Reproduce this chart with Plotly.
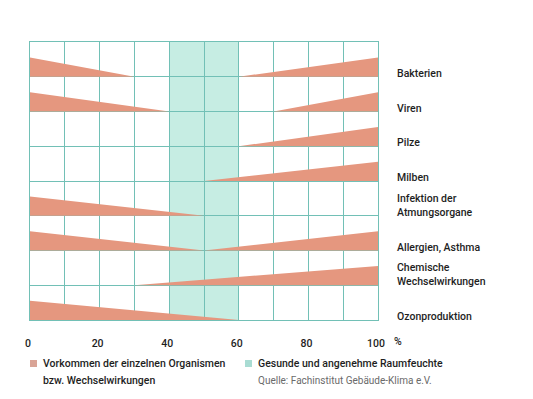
import plotly.graph_objects as go

categories = ["Bakterien", "Viren", "Pilze", "Milben",
              "Infektion der<br>Atmungsorgane", "Allergien, Asthma",
              "Chemische<br>Wechselwirkungen", "Ozonproduktion"]
# left wedge: thick at 0 %, tapering to this value (None = no wedge)
left_end = [30, 40, None, None, 50, 50, None, 60]
# right wedge: starts at this value, thick at 100 %
right_start = [60, 70, 60, 50, None, 50, 30, None]

band = [40, 60]
x_ticks = [0, 20, 40, 60, 80, 100]

WEDGE = "#E5977F"
BAND = "#C6EDE3"
GRID = "#72C0B6"
H = 0.555
n = len(categories)
FONT = "Roboto, DejaVu Sans Condensed, sans-serif"
TXT = "#1e1e1e"
FS = 10.5
WT = 500

PW, PH = 348, 278  # plot area size in px
PL, PT = 22, 34    # plot offsets (page has an 8px body margin)


def py(ypix):
    """page-pixel y (reference) -> paper coordinate"""
    return ((PT + 8 + PH) - ypix) / PH


def px(xpix):
    return (xpix - (PL + 8)) / PW


fig = go.Figure()

for i, cat in enumerate(categories):
    base = n - 1 - i
    if left_end[i] is not None:
        fig.add_trace(go.Scatter(
            x=[0, left_end[i], 0, 0], y=[base, base, base + H, base],
            fill="toself", fillcolor=WEDGE, mode="lines",
            line=dict(width=0, color=WEDGE), hoverinfo="skip", showlegend=False))
    if right_start[i] is not None:
        fig.add_trace(go.Scatter(
            x=[right_start[i], 100, 100, right_start[i]], y=[base, base, base + H, base],
            fill="toself", fillcolor=WEDGE, mode="lines",
            line=dict(width=0, color=WEDGE), hoverinfo="skip", showlegend=False))
    fig.add_annotation(x=1, xref="paper", xanchor="left", xshift=17,
                       y=base, yref="y", yanchor="bottom", yshift=-5,
                       text=cat, showarrow=False, align="left",
                       font=dict(size=FS, color=TXT, family=FONT, weight=WT))

fig.add_shape(type="rect", x0=band[0], x1=band[1], y0=0, y1=n,
              xref="x", yref="y", fillcolor=BAND, line_width=0, layer="below")

fig.update_layout(
    width=533, height=399,
    margin=dict(l=PL, r=533 - PL - PW, t=PT, b=399 - PT - PH, autoexpand=False),
    plot_bgcolor="white", paper_bgcolor="white",
    font=dict(family=FONT, size=FS, color=TXT),
    xaxis=dict(range=[0, 100], tickvals=x_ticks, ticktext=[str(v) for v in x_ticks],
               showgrid=True, gridcolor=GRID, gridwidth=1,
               minor=dict(dtick=10, showgrid=True, gridcolor=GRID),
               showline=True, linecolor=GRID, mirror=True,
               zeroline=False, ticks="", ticklabelstandoff=13, ticklabelshift=-2,
               tickfont=dict(size=FS, family=FONT, color=TXT, weight=WT),
               fixedrange=True),
    yaxis=dict(range=[0, n], dtick=1, showgrid=True, gridcolor=GRID, gridwidth=1,
               showticklabels=False, showline=True, linecolor=GRID, mirror=True,
               zeroline=False, ticks="", fixedrange=True),
)

fig.add_annotation(x=px(392), xref="paper", xanchor="left", y=py(341), yref="paper",
                   yanchor="middle", text="%", showarrow=False,
                   font=dict(size=FS, family=FONT, color=TXT, weight=WT))

# legend
SQ = 7
fig.add_shape(type="rect", xref="paper", yref="paper",
              x0=px(30), x1=px(30 + SQ), y0=py(360), y1=py(360 + SQ),
              fillcolor="#D9A496", line_width=0)
fig.add_annotation(x=px(41), xref="paper", xanchor="left", y=py(363.5), yref="paper",
                   yanchor="middle", text="Vorkommen der einzelnen Organismen",
                   showarrow=False, align="left",
                   font=dict(size=FS, family=FONT, color=TXT, weight=WT))
fig.add_annotation(x=px(41), xref="paper", xanchor="left", y=py(380.5), yref="paper",
                   yanchor="middle", text="bzw. Wechselwirkungen",
                   showarrow=False, align="left",
                   font=dict(size=FS, family=FONT, color=TXT, weight=WT))
fig.add_shape(type="rect", xref="paper", yref="paper",
              x0=px(245), x1=px(245 + SQ), y0=py(360), y1=py(360 + SQ),
              fillcolor="#A9DCD3", line_width=0)
fig.add_annotation(x=px(256), xref="paper", xanchor="left", y=py(363.5), yref="paper",
                   yanchor="middle", text="Gesunde und angenehme Raumfeuchte",
                   showarrow=False, align="left",
                   font=dict(size=FS, family=FONT, color=TXT, weight=WT))
fig.add_annotation(x=px(256), xref="paper", xanchor="left", y=py(380.5), yref="paper",
                   yanchor="middle", text="Quelle: Fachinstitut Gebäude-Klima e.V.",
                   showarrow=False, align="left",
                   font=dict(size=10, family=FONT, color="#6a6a6a"))

fig.write_html("out.html")
